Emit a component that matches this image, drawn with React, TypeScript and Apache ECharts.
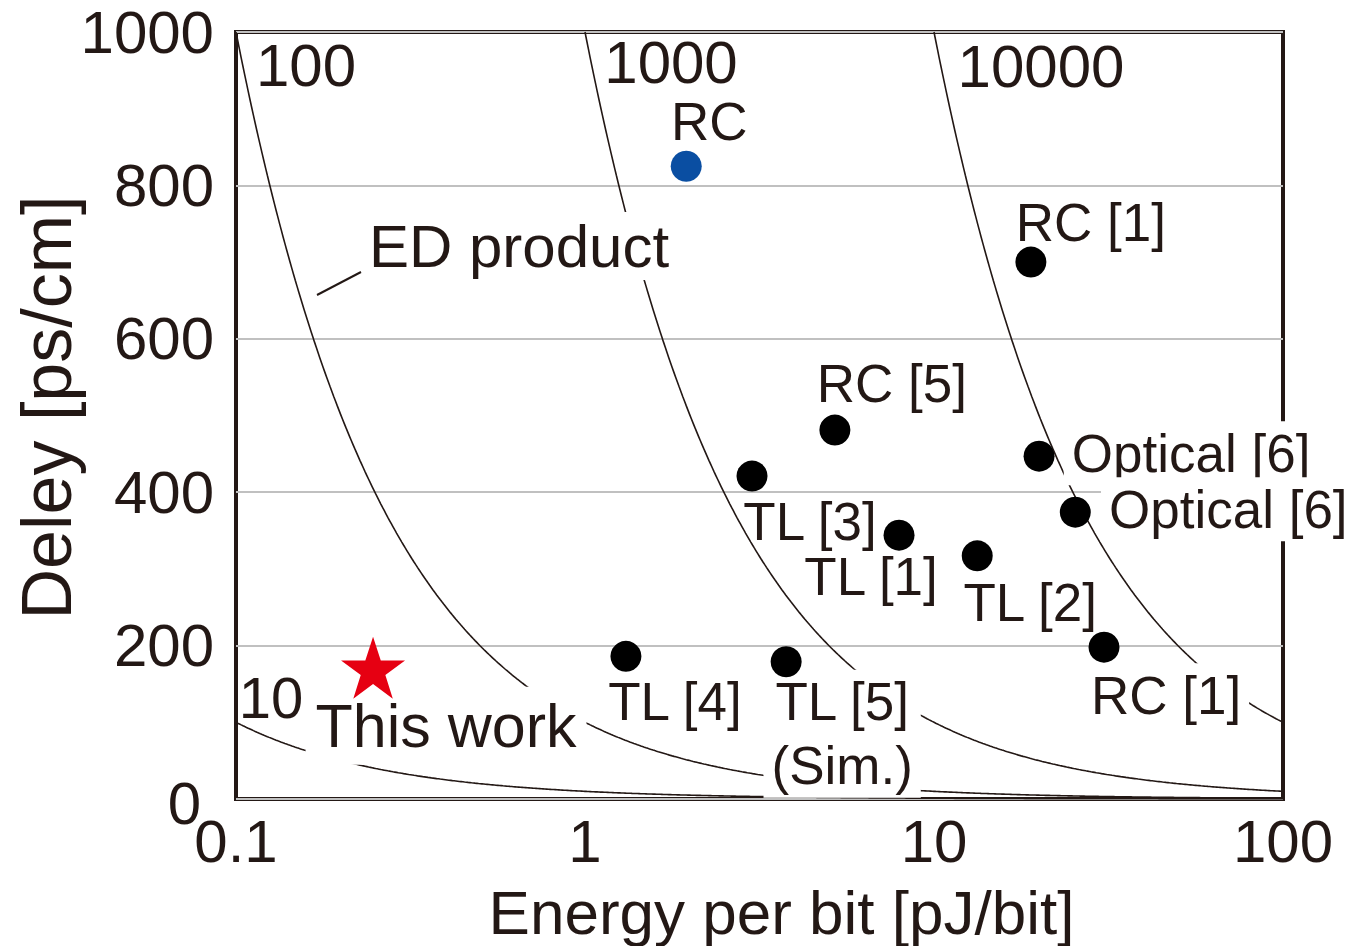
import { useEffect, useRef } from "react";
import * as echarts from "echarts";

// Reference designs: energy per bit [pJ/bit] vs. delay [ps/cm]
const REF_LABELS = [
  "RC [1]",
  "RC [5]",
  "TL [3]",
  "Optical [6]",
  "Optical [6]",
  "TL [1]",
  "TL [2]",
  "RC [1]",
  "TL [4]",
  "TL [5]\n(Sim.)",
];
const REF_ENERGY = [18.95, 5.2, 3.01, 20.0, 25.4, 7.94, 13.3, 30.7, 1.31, 3.77];
const REF_DELAY = [700, 481, 421, 447, 374, 344, 317, 198, 186, 179];

// Blue RC point
const RC_ENERGY = [1.95];
const RC_DELAY = [825];

// This work
const THIS_ENERGY = [0.247];
const THIS_DELAY = [171];

// Constant energy-delay product contours
const ED_PRODUCTS = [10, 100, 1000, 10000];

const X_TICKS = ["0.1", "1", "10", "100"];
const Y_TICKS = ["0", "200", "400", "600", "800", "1000"];

// label placement (offset of label centre from the marker centre) and white mask
const REF_LABEL_OFFSETS: [number, number][] = [
  [60, -40],
  [57, -47],
  [58, 45],
  [152, -3],
  [153, -3],
  [-28, 41],
  [53, 47],
  [62, 48],
  [49, 45],
  [56, 72],
];
const REF_LABEL_MASK = [false, false, false, true, true, false, false, true, false, true];

const FONT = '"Liberation Sans", Arial, Helvetica, sans-serif';
const INK = "#231815";
const STAR =
  "path://M50,0 L61.8,35.1 L98.9,35.1 L68.8,56.7 L80.2,91.9 L50,70 L19.8,91.9 L31.2,56.7 L1.1,35.1 L38.2,35.1 Z";

function contour(k: number): [number, number][] {
  const pts: [number, number][] = [];
  const start = Math.log10(Math.max(0.1, k / 1000));
  for (let t = start; t <= 2.0001; t += 0.005) {
    const e = Math.pow(10, t);
    pts.push([e, k / e]);
  }
  return pts;
}

const baseLabel = {
  show: true,
  position: "inside",
  color: INK,
  fontFamily: FONT,
  align: "center",
  verticalAlign: "middle",
};

export default function App() {
  const ref = useRef<HTMLDivElement>(null);

  useEffect(() => {
    if (!ref.current) return;
    const chart = echarts.init(ref.current, null, { renderer: "svg" });

    const refPoints = REF_ENERGY.map((e, i) => [e, REF_DELAY[i]]);
    const refLabelData = REF_LABELS.map((name, i) => ({
      name,
      value: [REF_ENERGY[i], REF_DELAY[i]],
      label: {
        offset: REF_LABEL_OFFSETS[i],
        backgroundColor: REF_LABEL_MASK[i] ? "#ffffff" : "transparent",
      },
    }));

    const option: any = {
      animation: false,
      backgroundColor: "#ffffff",
      textStyle: { fontFamily: FONT, color: INK },
      grid: {
        left: 236,
        right: 74,
        top: 32,
        bottom: 147,
        show: true,
        borderColor: INK,
        borderWidth: 4,
        backgroundColor: "transparent",
        containLabel: false,
        outerBoundsMode: "none",
      },
      xAxis: {
        type: "log",
        logBase: 10,
        min: 0.1,
        max: 100,
        name: "Energy per bit [pJ/bit]",
        nameLocation: "middle",
        nameGap: 82,
        nameMoveOverlap: false,
        nameTextStyle: { fontSize: 62, color: INK, fontFamily: FONT, padding: [0, 0, 0, 44] },
        axisLine: { show: false },
        axisTick: { show: false },
        splitLine: { show: false },
        minorTick: { show: false },
        axisLabel: {
          fontSize: 60,
          color: INK,
          fontFamily: FONT,
          margin: 12,
          formatter: (v: number) => {
            const s = String(Number(v.toPrecision(6)));
            return X_TICKS.includes(s) ? s : "";
          },
        },
      },
      yAxis: {
        type: "value",
        min: 0,
        max: 1000,
        interval: 200,
        name: "Deley [ps/cm]",
        nameLocation: "middle",
        nameGap: 154,
        nameMoveOverlap: false,
        nameTextStyle: { fontSize: 70, color: INK, fontFamily: FONT, padding: [0, 0, 0, 16] },
        axisLine: { show: false },
        axisTick: { show: false },
        splitLine: { show: true, lineStyle: { color: "#c0c0c0", width: 2 } },
        axisLabel: {
          fontSize: 60,
          color: INK,
          fontFamily: FONT,
          margin: 22,
          formatter: (v: number) => {
            const s = String(v);
            if (!Y_TICKS.includes(s)) return "";
            return s === "0" ? "{z|0}" : s;
          },
          rich: {
            z: { fontSize: 60, color: INK, fontFamily: FONT, padding: [8, 13, 0, 0] },
          },
        },
      },
      series: [
        ...ED_PRODUCTS.map((k) => ({
          type: "line",
          name: "ED " + k,
          data: contour(k),
          showSymbol: false,
          symbol: "none",
          clip: true,
          z: 1,
          silent: true,
          lineStyle: { color: INK, width: 1.6 },
        })),
        // text labels of the reference designs (white boxes mask the contours)
        {
          type: "scatter",
          name: "Reference labels",
          z: 4,
          silent: true,
          symbol: "circle",
          symbolSize: 1,
          itemStyle: { color: "rgba(0,0,0,0)", opacity: 1 },
          label: {
            ...baseLabel,
            formatter: "{b}",
            fontSize: 53,
            lineHeight: 64,
            padding: [0, 8],
          },
          data: refLabelData,
        },
        {
          type: "scatter",
          name: "RC label",
          z: 4,
          silent: true,
          symbol: "circle",
          symbolSize: 1,
          itemStyle: { color: "rgba(0,0,0,0)", opacity: 1 },
          label: { ...baseLabel, formatter: "RC", fontSize: 53, offset: [23, -45] },
          data: RC_ENERGY.map((e, i) => [e, RC_DELAY[i]]),
        },
        {
          type: "scatter",
          name: "This work label",
          z: 4,
          silent: true,
          symbol: "circle",
          symbolSize: 1,
          itemStyle: { color: "rgba(0,0,0,0)", opacity: 1 },
          label: {
            ...baseLabel,
            formatter: "This work",
            fontSize: 61,
            lineHeight: 62,
            offset: [73, 58],
            backgroundColor: "#ffffff",
            padding: [8, 10],
          },
          data: THIS_ENERGY.map((e, i) => [e, THIS_DELAY[i]]),
        },
        // markers
        {
          type: "scatter",
          name: "References",
          z: 6,
          symbol: "circle",
          symbolSize: 31,
          itemStyle: { color: "#000000", opacity: 1 },
          data: refPoints,
        },
        {
          type: "scatter",
          name: "RC",
          z: 6,
          symbol: "circle",
          symbolSize: 31,
          itemStyle: { color: "#0a4ea2", opacity: 1 },
          data: RC_ENERGY.map((e, i) => [e, RC_DELAY[i]]),
        },
        {
          type: "scatter",
          name: "This work",
          z: 6,
          symbol: STAR,
          symbolSize: [64, 62],
          symbolKeepAspect: false,
          itemStyle: { color: "#e60012", opacity: 1 },
          data: THIS_ENERGY.map((e, i) => [e, THIS_DELAY[i]]),
        },
      ],
      graphic: [
        {
          type: "text",
          x: 306,
          y: 65,
          z: 10,
          style: {
            text: "100",
            fontSize: 60,
            fontFamily: FONT,
            fill: INK,
            textAlign: "center",
            textVerticalAlign: "middle",
          },
        },
        {
          type: "text",
          x: 671,
          y: 62,
          z: 10,
          style: {
            text: "1000",
            fontSize: 60,
            fontFamily: FONT,
            fill: INK,
            textAlign: "center",
            textVerticalAlign: "middle",
          },
        },
        {
          type: "text",
          x: 1041,
          y: 66,
          z: 10,
          style: {
            text: "10000",
            fontSize: 60,
            fontFamily: FONT,
            fill: INK,
            textAlign: "center",
            textVerticalAlign: "middle",
          },
        },
        {
          type: "text",
          x: 271,
          y: 697,
          z: 10,
          style: {
            text: "10",
            fontSize: 58,
            fontFamily: FONT,
            fill: INK,
            textAlign: "center",
            textVerticalAlign: "middle",
          },
        },
        {
          type: "text",
          x: 519,
          y: 246,
          z: 10,
          style: {
            text: "ED product",
            fontSize: 60,
            fontFamily: FONT,
            fill: INK,
            textAlign: "center",
            textVerticalAlign: "middle",
            backgroundColor: "#ffffff",
            padding: [4, 6],
          },
        },
        {
          type: "line",
          z: 10,
          shape: { x1: 317, y1: 295, x2: 361, y2: 272 },
          style: { stroke: INK, lineWidth: 2 },
        },
      ],
    };

    chart.setOption(option);
    return () => chart.dispose();
  }, []);

  return (
    <div
      ref={ref}
      style={{ position: "fixed", left: 0, top: 0, width: 1357, height: 946 }}
    />
  );
}
